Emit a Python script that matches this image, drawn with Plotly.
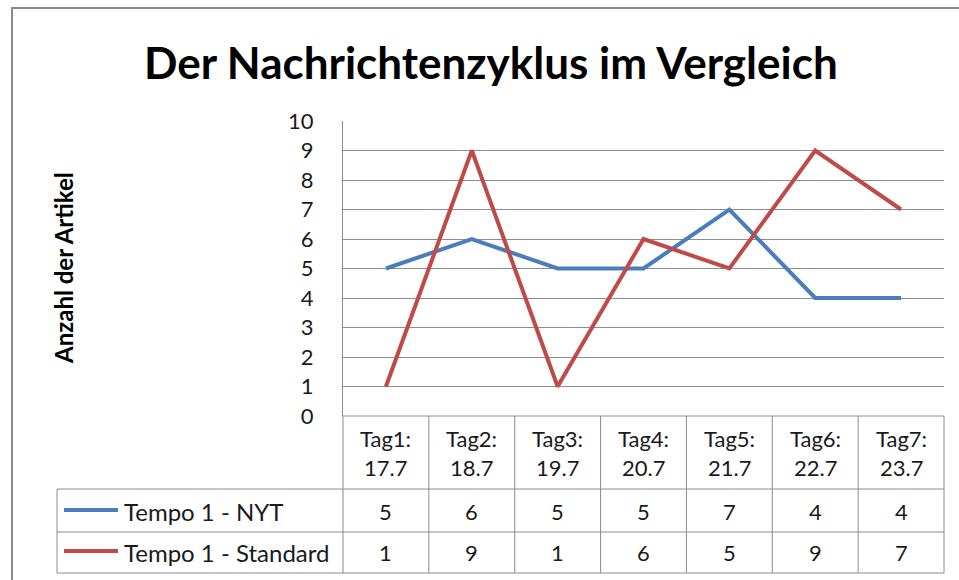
import plotly.graph_objects as go

# ---- data ----
days = ["Tag1:", "Tag2:", "Tag3:", "Tag4:", "Tag5:", "Tag6:", "Tag7:"]
dates = ["17.7", "18.7", "19.7", "20.7", "21.7", "22.7", "23.7"]
series_names = ["Tempo 1 - NYT", "Tempo 1 - Standard"]
nyt = [5, 6, 5, 5, 7, 4, 4]
standard = [1, 9, 1, 6, 5, 9, 7]

title_text = "Der Nachrichtenzyklus im Vergleich"
y_title = "Anzahl der Artikel"
y_ticks = list(range(0, 11))

colors = ["#4A7EBB", "#BE4B48"]
grid = "#8C8C8C"
font_family = "Lato, 'Open Sans', sans-serif"
txt = "#1a1a1a"

W, H = 959, 580
L, R, T, B = 343, 15, 121, 164
pw, ph = W - L - R, H - T - B


def px_x(X):
    return (X - L) / pw


def px_y(Y):
    return (H - B - Y) / ph


x_idx = list(range(len(days)))
fig = go.Figure()
for name, vals, col in zip(series_names, [nyt, standard], colors):
    fig.add_trace(go.Scatter(x=x_idx, y=vals, mode="lines", name=name,
                             line=dict(color=col, width=4), cliponaxis=False))

shapes = []
ann = []
n = len(days)
# outer chart border
shapes.append(dict(type="rect", xref="paper", yref="paper", x0=px_x(12), x1=px_x(975),
                   y0=px_y(8), y1=px_y(595), line=dict(color="#8A8A8A", width=2)))
# table lines
rows_Y = [489, 532, 573]
left_X = 57
for Y in rows_Y:
    shapes.append(dict(type="line", xref="paper", yref="paper", x0=px_x(left_X), x1=1,
                       y0=px_y(Y), y1=px_y(Y), line=dict(color=grid, width=1)))
shapes.append(dict(type="line", xref="paper", yref="paper", x0=0, x1=1,
                   y0=0, y1=0, line=dict(color=grid, width=1)))
for k in range(n + 1):
    shapes.append(dict(type="line", xref="paper", yref="paper", x0=k / n, x1=k / n,
                       y0=0, y1=px_y(573), line=dict(color=grid, width=1)))
shapes.append(dict(type="line", xref="paper", yref="paper", x0=px_x(left_X), x1=px_x(left_X),
                   y0=px_y(489), y1=px_y(573), line=dict(color=grid, width=1)))

tfont = dict(family=font_family, size=22, color=txt)
for i in range(n):
    ann.append(dict(xref="x", yref="paper", x=i, y=px_y(438), text=days[i],
                    xanchor="center", yanchor="middle", showarrow=False, font=tfont))
    ann.append(dict(xref="x", yref="paper", x=i, y=px_y(468), text=dates[i],
                    xanchor="center", yanchor="middle", showarrow=False, font=tfont))
    ann.append(dict(xref="x", yref="paper", x=i, y=px_y(511), text=str(nyt[i]),
                    xanchor="center", yanchor="middle", showarrow=False, font=tfont))
    ann.append(dict(xref="x", yref="paper", x=i, y=px_y(552), text=str(standard[i]),
                    xanchor="center", yanchor="middle", showarrow=False, font=tfont))
lfont = dict(family=font_family, size=24, color=txt)
for j, (name, col, Y) in enumerate(zip(series_names, colors, [511, 552])):
    shapes.append(dict(type="line", xref="paper", yref="paper", x0=px_x(64), x1=px_x(118),
                       y0=px_y(Y - 1), y1=px_y(Y - 1), line=dict(color=col, width=4)))
    ann.append(dict(xref="paper", yref="paper", x=px_x(122), y=px_y(Y), text=name,
                    xanchor="left", yanchor="middle", showarrow=False, font=lfont))
# y axis title
ann.append(dict(xref="paper", yref="paper", x=px_x(63), y=px_y(268), text="<b>" + y_title + "</b>",
                xanchor="center", yanchor="middle",
                textangle=-90, showarrow=False, font=dict(family=font_family, size=24, color="#000")))
# title
ann.append(dict(xref="paper", yref="paper", x=px_x(491), y=px_y(62), text="<b>" + title_text + "</b>",
                xanchor="center", yanchor="middle",
                showarrow=False, font=dict(family=font_family, size=44, color="#000")))

fig.update_layout(
    width=W, height=H, margin=dict(l=L, r=R, t=T, b=B),
    paper_bgcolor="white", plot_bgcolor="white", showlegend=False,
    shapes=shapes, annotations=ann,
    xaxis=dict(range=[-0.5, n - 0.5], showticklabels=False, showgrid=False,
               zeroline=False, showline=False, fixedrange=True),
    yaxis=dict(range=[0, 10], tickvals=y_ticks, showgrid=True, gridcolor=grid, gridwidth=1,
               zeroline=False, showline=True, linecolor=grid, linewidth=1, ticks="",
               ticklabelstandoff=24,
               tickfont=dict(family=font_family, size=22, color=txt)),
)
fig.write_html("out.html", config={"displayModeBar": False},
               post_script="document.body.style.margin='0';")
